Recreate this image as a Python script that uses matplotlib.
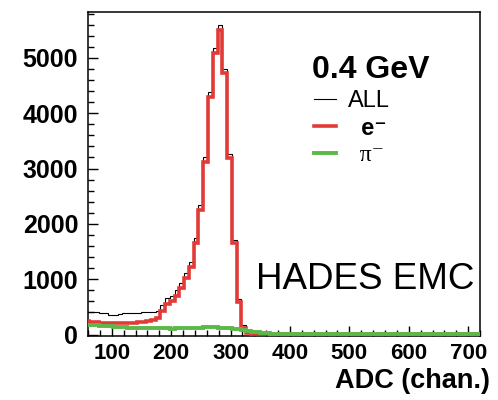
import matplotlib
matplotlib.use("Agg")
import matplotlib.pyplot as plt
from matplotlib.ticker import MultipleLocator
import numpy as np

plt.rcParams['font.family'] = ['Liberation Sans', 'DejaVu Sans']

# ADC histogram, 8 channel bins from 54 to 726
edges = np.arange(54, 727, 8)

all_counts = [410, 410, 400, 390, 385, 360, 355, 370, 380, 385, 385, 395, 405, 410, 415, 420,
              540, 660, 700, 800, 930, 1110, 1315, 1745, 2340, 3215, 4390, 5180, 5600, 4800,
              3260, 1710, 640, 170, 60, 30, 18, 14, 11, 10, 9, 8, 8,
              7, 7, 6, 6, 6, 5, 5, 5, 5, 4, 4, 4, 4, 4, 4, 4, 3, 3, 3, 3, 3, 3, 3, 3, 3, 3,
              3, 3, 3, 3, 3, 3, 3, 3, 3, 3, 3, 3, 3, 3, 3]
e_counts = [240, 230, 220, 215, 210, 205, 200, 200, 205, 210, 215, 220, 230, 245, 260, 290,
            420, 560, 600, 700, 835, 1015, 1225, 1650, 2250, 3125, 4300, 5085, 5505, 4720,
            3185, 1650, 595, 110, 20, 8, 5, 3, 2, 2, 1, 1, 1,
            1, 1, 1, 1, 1, 1, 1, 1, 1, 1, 1, 1, 1, 1, 1, 1, 1, 1, 1, 1, 1, 1, 1, 1, 1, 1,
            1, 1, 1, 1, 1, 1, 1, 1, 1, 1, 1, 1, 1, 1, 1]
pi_counts = [175, 170, 165, 160, 150, 145, 140, 135, 130, 125, 120, 118, 115, 112, 110, 110,
             112, 110, 108, 110, 112, 115, 118, 122, 125, 128, 130, 128, 125, 120,
             112, 105, 95, 80, 65, 50, 38, 28, 20, 15, 12, 10, 8,
             6, 6, 5, 5, 5, 4, 4, 4, 4, 3, 3, 3, 3, 3, 3, 3, 3, 2, 2, 2, 2, 2, 2, 2, 2, 2,
             2, 2, 2, 2, 2, 2, 2, 2, 2, 2, 2, 2, 2, 2, 2]

fig = plt.figure(figsize=(4.98, 4.0), dpi=100)
ax = fig.add_axes([0.1767, 0.16, 0.7873, 0.81])

h_all = ax.stairs(all_counts, edges, baseline=None, color='black', linewidth=0.8, zorder=2, label='ALL')
h_e = ax.stairs(e_counts, edges, baseline=None, color='#e23a36', linewidth=2.6, zorder=3, label='  e\u207b')
h_pi = ax.stairs(pi_counts, edges, baseline=None, color='#5cb848', linewidth=2.8, zorder=4, label='  \u03c0\u207b')

ax.set_xlim(60, 720)
ax.set_ylim(-27, 5830)

ax.xaxis.set_major_locator(MultipleLocator(100))
ax.xaxis.set_minor_locator(MultipleLocator(20))
ax.yaxis.set_major_locator(MultipleLocator(1000))
ax.yaxis.set_minor_locator(MultipleLocator(200))
ax.set_xticks(np.arange(100, 701, 100))

ax.tick_params(which='both', direction='in', top=False, right=False, width=1.0)
ax.tick_params(which='major', length=7)
ax.tick_params(which='minor', length=4)
ax.tick_params(axis='x', which='major', pad=5, labelsize=16)
ax.tick_params(axis='y', which='major', pad=7, labelsize=18)
for lab in ax.get_xticklabels() + ax.get_yticklabels():
    lab.set_fontweight('bold')
for sp in ax.spines.values():
    sp.set_linewidth(1.1)

fig.text(490 / 498, 1 - 381 / 400, 'ADC (chan.)', ha='right', va='center',
         fontsize=19.5, fontweight='bold')

fig.text(312 / 498, 1 - 78 / 400, '0.4 GeV', ha='left', va='baseline',
         fontsize=23, fontweight='bold')
fig.text(256 / 498, 1 - 289 / 400, 'HADES EMC', ha='left', va='baseline', fontsize=26.5)

leg = ax.legend(handles=[h_all, h_e, h_pi], loc='upper left',
                bbox_to_anchor=(314 / 498, 1 - 90 / 400), bbox_transform=fig.transFigure,
                frameon=False, fontsize=17, handlelength=0.95, handletextpad=0.5,
                labelspacing=0.2, borderpad=0, borderaxespad=0)
texts = leg.get_texts()
texts[1].set_fontweight('bold')
texts[2].set_family(['Liberation Serif', 'DejaVu Serif'])

fig.savefig('out.png', dpi=100)
